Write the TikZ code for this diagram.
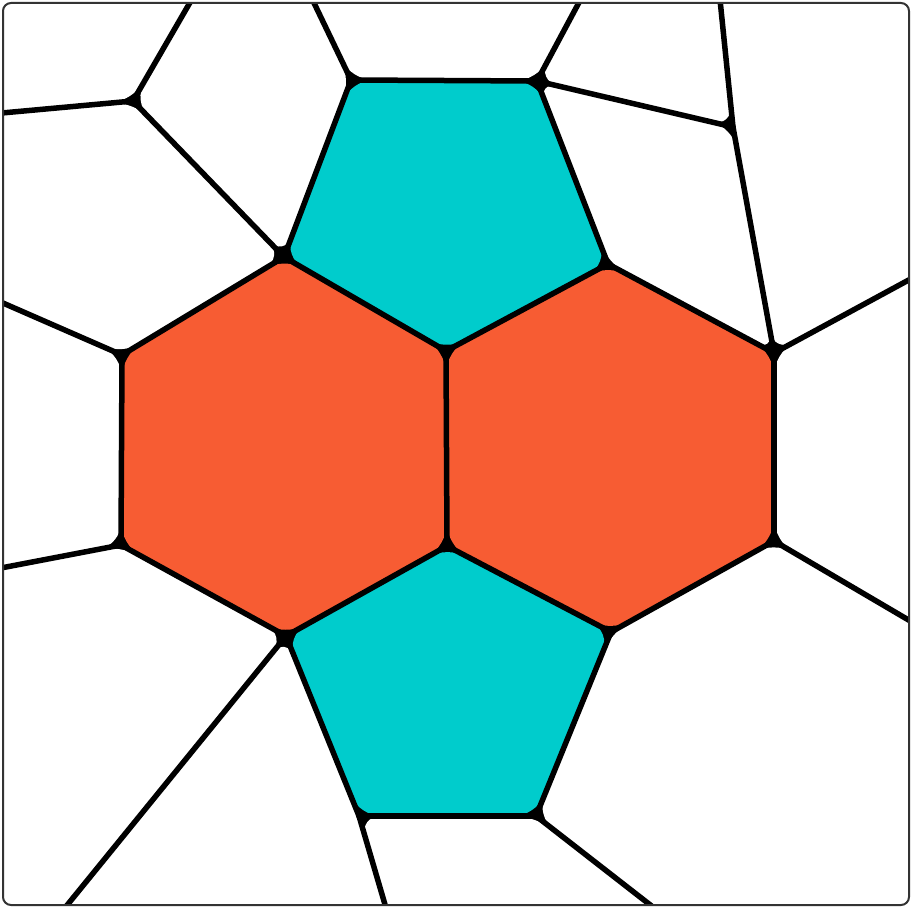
\documentclass[tikz,border=0pt]{standalone}
\definecolor{celeste}{RGB}{0,204,204}
\definecolor{naranja}{RGB}{247,92,51}
\tikzset{
  arista/.style={line width=5.5pt, line cap=round, line join=round},
  celda/.style={fill=white, rounded corners=22pt},
}
\begin{document}
\begin{tikzpicture}[x=1pt,y=-1pt]
  \useasboundingbox (0,0) rectangle (913,907);
  % marco
  \coordinate (fa) at (3,3); \coordinate (fb) at (909,905);
  % puntos fuera del marco (se recortan)
  \coordinate (tl) at (-20,-20); \coordinate (tr) at (929,-20);
  \coordinate (br) at (929,925); \coordinate (bl) at (-20,925);
  \coordinate (t1) at (203,-20); \coordinate (t2) at (303,-20);
  \coordinate (t3) at (591,-20); \coordinate (t4) at (718,-20);
  \coordinate (l1) at (-20,115); \coordinate (l2) at (-20,293);
  \coordinate (l3) at (-20,572);
  \coordinate (r1) at (929,269); \coordinate (r2) at (929,632);
  \coordinate (b1) at (51,925);  \coordinate (b2) at (391,925);
  \coordinate (b3) at (676,925);
  % vértices interiores
  \coordinate (a) at (133,101); \coordinate (b) at (351,80);
  \coordinate (c) at (537,81);  \coordinate (d) at (733,127);
  \coordinate (e) at (284,257); \coordinate (f) at (608,264);
  \coordinate (g) at (446,351); \coordinate (h) at (122,355);
  \coordinate (i) at (774,353); \coordinate (j) at (121,545);
  \coordinate (k) at (447,546); \coordinate (l) at (286,636);
  \coordinate (m) at (611,632); \coordinate (n) at (774,541);
  \coordinate (o) at (359,816); \coordinate (p) at (536,816);
  \begin{scope}
    \clip[rounded corners=8pt] (fa) rectangle (fb);
    \fill[black] (tl) rectangle (br);
    % celdas
    \fill[celda] (tl) -- (t1) -- (a) -- (l1) -- cycle;
    \fill[celda] (t1) -- (t2) -- (b) -- (e) -- (a) -- cycle;
    \fill[celda] (t2) -- (t3) -- (c) -- (b) -- cycle;
    \fill[celda] (t3) -- (t4) -- (d) -- (c) -- cycle;
    \fill[celda] (t4) -- (tr) -- (r1) -- (i) -- (d) -- cycle;
    \fill[celda] (c) -- (d) -- (i) -- (f) -- cycle;
    \fill[celda] (l1) -- (a) -- (e) -- (h) -- (l2) -- cycle;
    \fill[celda] (l2) -- (h) -- (j) -- (l3) -- cycle;
    \fill[celda] (r1) -- (r2) -- (n) -- (i) -- cycle;
    \fill[celda] (l3) -- (j) -- (l) -- (b1) -- (bl) -- cycle;
    \fill[celda] (l) -- (o) -- (b2) -- (b1) -- cycle;
    \fill[celda] (o) -- (p) -- (b3) -- (b2) -- cycle;
    \fill[celda] (p) -- (m) -- (n) -- (r2) -- (br) -- (b3) -- cycle;
    \fill[celda,fill=celeste] (b) -- (c) -- (f) -- (g) -- (e) -- cycle;
    \fill[celda,fill=celeste] (k) -- (m) -- (p) -- (o) -- (l) -- cycle;
    \fill[celda,fill=naranja] (e) -- (g) -- (k) -- (l) -- (j) -- (h) -- cycle;
    \fill[celda,fill=naranja] (g) -- (f) -- (i) -- (n) -- (m) -- (k) -- cycle;
    % aristas
    \foreach \u/\v in {a/t1,a/l1,a/e,b/t2,b/c,b/e,c/t3,c/d,c/f,d/t4,d/i,
        e/g,e/h,f/g,f/i,g/k,h/l2,h/j,i/r1,i/n,j/l3,j/l,k/l,k/m,
        l/b1,l/o,m/n,m/p,n/r2,o/p,o/b2,p/b3}
      \draw[arista] (\u) -- (\v);
  \end{scope}
  \draw[black!80, line width=2pt, rounded corners=8pt] (fa) rectangle (fb);
\end{tikzpicture}
\end{document}
